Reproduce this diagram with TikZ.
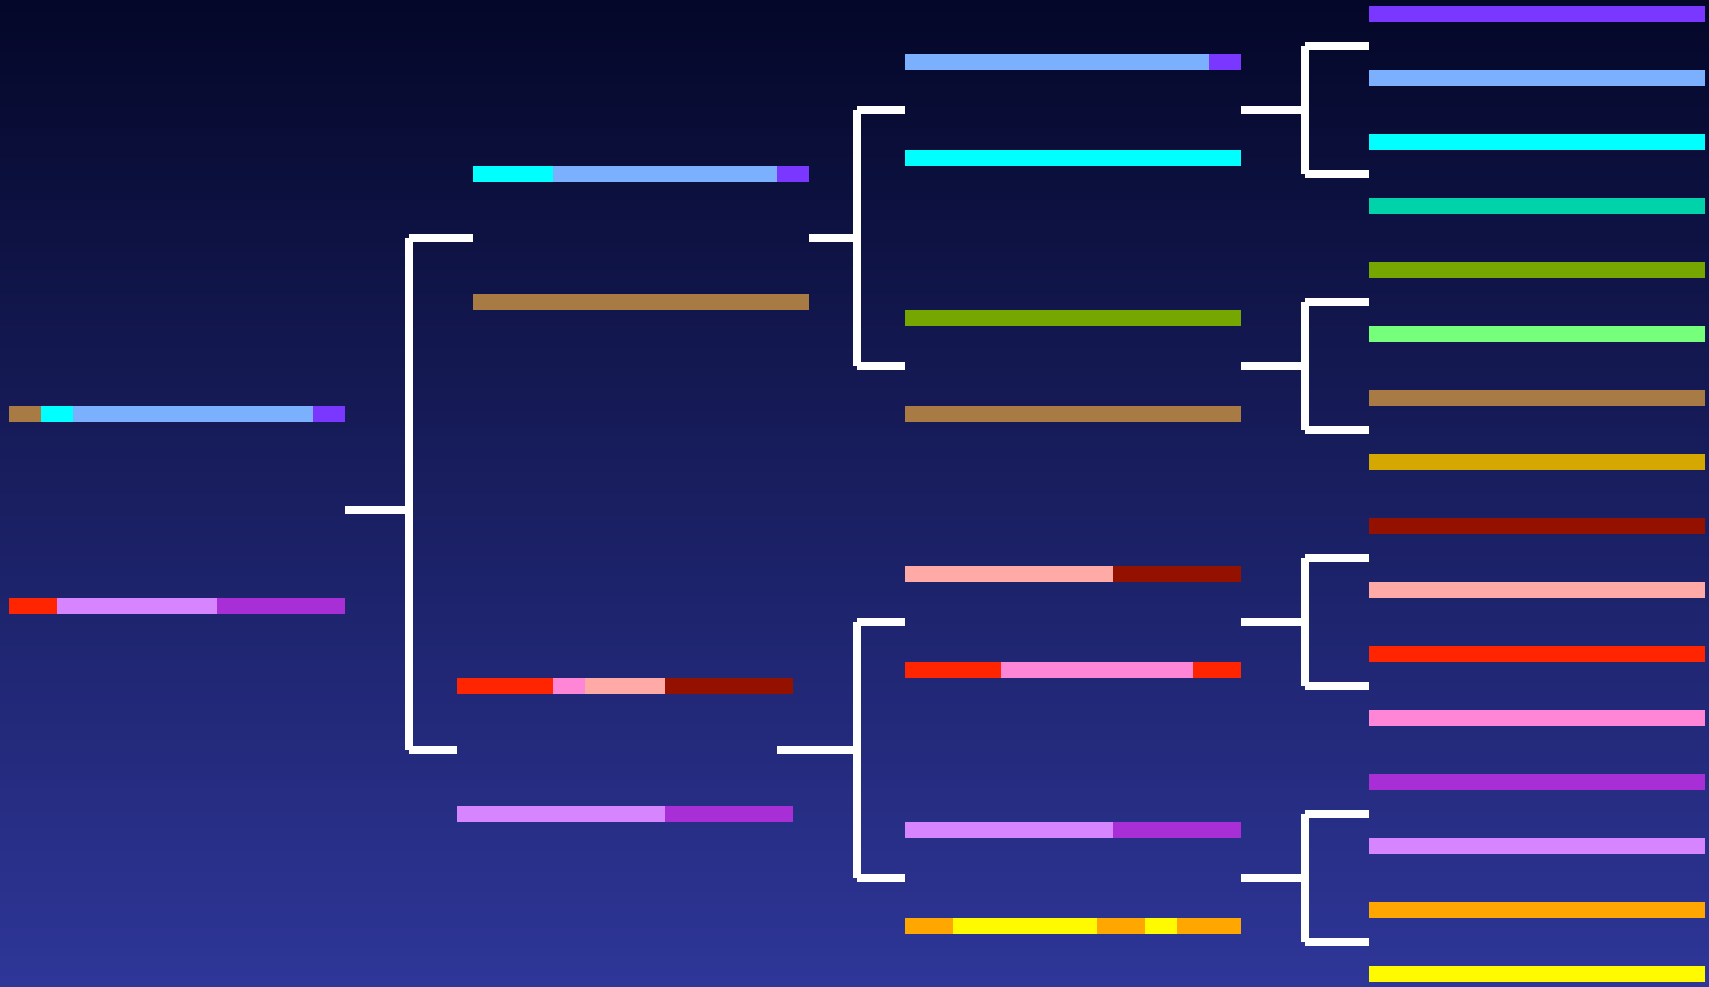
\documentclass[tikz,border=0pt]{standalone}
\usetikzlibrary{calc}

% palette
\definecolor{bgTop}{HTML}{040728}
\definecolor{bgBot}{HTML}{2E3698}
\definecolor{cViolet}{HTML}{7A37FF}
\definecolor{cSky}{HTML}{7BB0FF}
\definecolor{cCyan}{HTML}{00FFFF}
\definecolor{cTeal}{HTML}{00D3AA}
\definecolor{cOlive}{HTML}{76A600}
\definecolor{cMint}{HTML}{76FF7A}
\definecolor{cBrown}{HTML}{A87A44}
\definecolor{cGold}{HTML}{D4A800}
\definecolor{cMaroon}{HTML}{941100}
\definecolor{cSalmon}{HTML}{FFAAA6}
\definecolor{cRed}{HTML}{FF2500}
\definecolor{cPink}{HTML}{FF85D6}
\definecolor{cPurple}{HTML}{A82ED6}
\definecolor{cLilac}{HTML}{D685FF}
\definecolor{cOrange}{HTML}{FFA600}
\definecolor{cYellow}{HTML}{FFFA00}

\tikzset{
  barbox/.style={rectangle, inner sep=0pt, outer sep=0pt,
                 minimum width=336pt, minimum height=16pt, draw=none},
  link/.style={draw=white, line width=8pt, line cap=butt},
}

% a bar made of coloured pieces, each piece given in units of 16pt
% #1 name, #2 left edge x, #3 centre y, #4 list colour/units
\newcommand\segbar[4]{%
  \node[barbox] (#1) at (#2+168,#3) {};
  \gdef\segpos{0}%
  \foreach \col/\len in {#4}{%
    \fill[\col] ([xshift=\segpos*16pt]#1.north west)
      rectangle ([xshift=(\segpos+\len)*16pt]#1.south west);
    \pgfmathparse{\segpos+\len}\xdef\segpos{\pgfmathresult}%
  }%
}

% bracket joining a pair of bars to two pairs of bars on the next level
% #1 stub start shift, #2,#3 parent pair, #4 spine x,
% #5,#6 upper child pair, #7,#8 lower child pair
\newcommand\fork[8]{%
  \coordinate (fm) at ($(#2.east)!0.5!(#3.east)$);
  \coordinate (ft) at ($(#5.west)!0.5!(#6.west)$);
  \coordinate (fb) at ($(#7.west)!0.5!(#8.west)$);
  \coordinate (fs) at (#4,0);
  \draw[link] ([xshift=#1]fm) -- (fm -| fs);
  \draw[link] (ft -| fs) -- (fb -| fs);
  \draw[link] (ft -| fs) -- (ft);
  \draw[link] (fb -| fs) -- (fb);
}

\begin{document}
\begin{tikzpicture}[x=1pt, y=-1pt]
  \shade[top color=bgTop, bottom color=bgBot] (0,0) rectangle (1709,986);

  % level 1
  \segbar{a1}{9}{414}{cBrown/2, cCyan/2, cSky/15, cViolet/2}
  \segbar{a2}{9}{606}{cRed/3, cLilac/10, cPurple/8}

  % level 2
  \segbar{b1}{473}{174}{cCyan/5, cSky/14, cViolet/2}
  \segbar{b2}{473}{302}{cBrown/21}
  \segbar{b3}{457}{686}{cRed/6, cPink/2, cSalmon/5, cMaroon/8}
  \segbar{b4}{457}{814}{cLilac/13, cPurple/8}

  % level 3
  \segbar{c1}{905}{62}{cSky/19, cViolet/2}
  \segbar{c2}{905}{158}{cCyan/21}
  \segbar{c3}{905}{318}{cOlive/21}
  \segbar{c4}{905}{414}{cBrown/21}
  \segbar{c5}{905}{574}{cSalmon/13, cMaroon/8}
  \segbar{c6}{905}{670}{cRed/6, cPink/12, cRed/3}
  \segbar{c7}{905}{830}{cLilac/13, cPurple/8}
  \segbar{c8}{905}{926}{cOrange/3, cYellow/9, cOrange/3, cYellow/2, cOrange/4}

  % level 4
  \segbar{d1}{1369}{14}{cViolet/21}
  \segbar{d2}{1369}{78}{cSky/21}
  \segbar{d3}{1369}{142}{cCyan/21}
  \segbar{d4}{1369}{206}{cTeal/21}
  \segbar{d5}{1369}{270}{cOlive/21}
  \segbar{d6}{1369}{334}{cMint/21}
  \segbar{d7}{1369}{398}{cBrown/21}
  \segbar{d8}{1369}{462}{cGold/21}
  \segbar{d9}{1369}{526}{cMaroon/21}
  \segbar{d10}{1369}{590}{cSalmon/21}
  \segbar{d11}{1369}{654}{cRed/21}
  \segbar{d12}{1369}{718}{cPink/21}
  \segbar{d13}{1369}{782}{cPurple/21}
  \segbar{d14}{1369}{846}{cLilac/21}
  \segbar{d15}{1369}{910}{cOrange/21}
  \segbar{d16}{1369}{974}{cYellow/21}

  % brackets
  \fork{0pt}{a1}{a2}{409}{b1}{b2}{b3}{b4}
  \fork{0pt}{b1}{b2}{857}{c1}{c2}{c3}{c4}
  \fork{-16pt}{b3}{b4}{857}{c5}{c6}{c7}{c8}
  \fork{0pt}{c1}{c2}{1305}{d1}{d2}{d3}{d4}
  \fork{0pt}{c3}{c4}{1305}{d5}{d6}{d7}{d8}
  \fork{0pt}{c5}{c6}{1305}{d9}{d10}{d11}{d12}
  \fork{0pt}{c7}{c8}{1305}{d13}{d14}{d15}{d16}
\end{tikzpicture}
\end{document}
